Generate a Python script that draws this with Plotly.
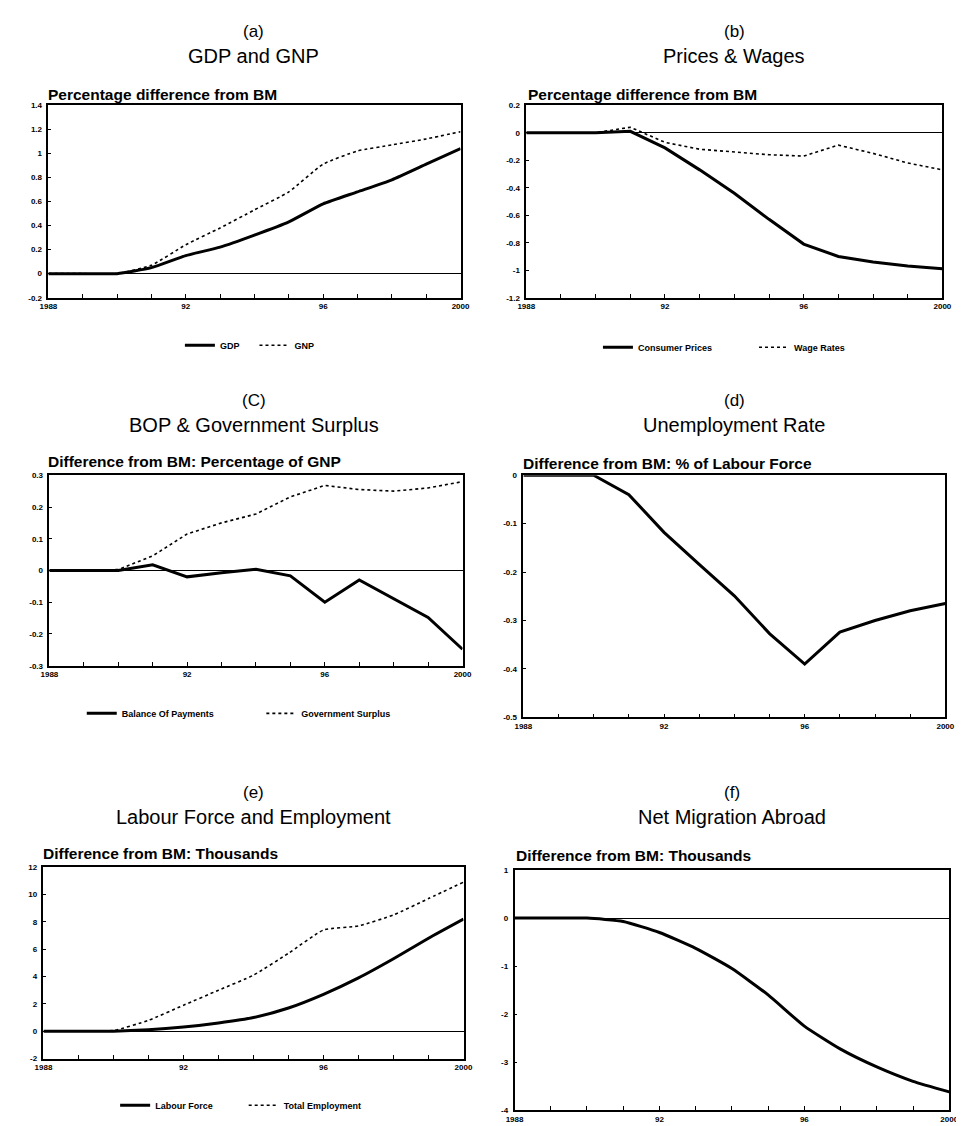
import plotly.graph_objects as go

W, H = 964, 1126

years = [1988, 1989, 1990, 1991, 1992, 1993, 1994, 1995, 1996, 1997, 1998, 1999, 2000]
x_tick_labels = ["1988", "", "", "", "92", "", "", "", "96", "", "", "", "2000"]

# (a) GDP and GNP
gdp = [0, 0, 0, 0.05, 0.15, 0.22, 0.32, 0.43, 0.58, 0.68, 0.78, 0.91, 1.04]
gnp = [0, 0, 0, 0.07, 0.24, 0.38, 0.53, 0.68, 0.91, 1.02, 1.07, 1.12, 1.18]
# (b) Prices & Wages
consumer_prices = [0, 0, 0, 0.01, -0.11, -0.27, -0.44, -0.63, -0.81, -0.90, -0.94, -0.97, -0.99]
wage_rates = [0, 0, 0, 0.04, -0.07, -0.12, -0.14, -0.16, -0.17, -0.09, -0.15, -0.22, -0.27]
# (c) BOP & Government Surplus
balance_of_payments = [0, 0, 0, 0.018, -0.02, -0.007, 0.004, -0.017, -0.10, -0.03, -0.09, -0.148, -0.248]
government_surplus = [0, 0, 0.003, 0.046, 0.115, 0.15, 0.178, 0.232, 0.268, 0.255, 0.25, 0.26, 0.28]
# (d) Unemployment Rate
unemployment = [0, 0, 0, -0.04, -0.118, -0.184, -0.249, -0.327, -0.39, -0.324, -0.30, -0.28, -0.265]
# (e) Labour Force and Employment
labour_force = [0, 0, 0, 0.1, 0.3, 0.6, 1.0, 1.7, 2.7, 3.9, 5.3, 6.8, 8.2]
total_employment = [0, 0, 0.05, 0.8, 1.9, 3.0, 4.1, 5.7, 7.4, 7.7, 8.5, 9.7, 10.9]
# (f) Net Migration Abroad
net_migration = [0, 0, 0, -0.07, -0.3, -0.63, -1.05, -1.6, -2.25, -2.73, -3.1, -3.4, -3.62]

# y tick values / labels per panel
yt_a = [1.4, 1.2, 1, 0.8, 0.6, 0.4, 0.2, 0, -0.2]
yl_a = ["1.4", "1.2", "1", "0.8", "0.6", "0.4", "0.2", "0", "-0.2"]
yt_b = [0.2, 0, -0.2, -0.4, -0.6, -0.8, -1, -1.2]
yl_b = ["0.2", "0", "-0.2", "-0.4", "-0.6", "-0.8", "-1", "-1.2"]
yt_c = [0.3, 0.2, 0.1, 0, -0.1, -0.2, -0.3]
yl_c = ["0.3", "0.2", "0.1", "0", "-0.1", "-0.2", "-0.3"]
yt_d = [0, -0.1, -0.2, -0.3, -0.4, -0.5]
yl_d = ["0", "-0.1", "-0.2", "-0.3", "-0.4", "-0.5"]
yt_e = [12, 10, 8, 6, 4, 2, 0, -2]
yl_e = ["12", "10", "8", "6", "4", "2", "0", "-2"]
yt_f = [1, 0, -1, -2, -3, -4]
yl_f = ["1", "0", "-1", "-2", "-3", "-4"]

FONT = "Liberation Sans, Arial, sans-serif"

# panel geometry in pixels: (x0, x1, y0_top, y1_bottom)
panels = {
    1: (32, 452, 94, 288),
    2: (519, 943, 94, 288),
    3: (33, 454, 467, 659),
    4: (516, 946, 467, 711),
    5: (27, 455, 862, 1055),
    6: (507, 950, 865, 1107),
}
ranges = {1: [-0.2, 1.4], 2: [-1.2, 0.2], 3: [-0.3, 0.3], 4: [-0.5, 0], 5: [-2, 12], 6: [-4, 1]}
yticks = {1: (yt_a, yl_a), 2: (yt_b, yl_b), 3: (yt_c, yl_c), 4: (yt_d, yl_d), 5: (yt_e, yl_e), 6: (yt_f, yl_f)}

def px(x):
    return x / W

def py(y):
    return 1 - y / H

fig = go.Figure()

solid = dict(color="black", width=3)
dotted = dict(color="black", width=1.6, dash="dot")

series = [
    (1, gdp, "GDP", solid, "legend", "spline"),
    (1, gnp, "GNP", dotted, "legend2", "spline"),
    (2, consumer_prices, "Consumer Prices", solid, "legend3", "linear"),
    (2, wage_rates, "Wage Rates", dotted, "legend4", "linear"),
    (3, balance_of_payments, "Balance Of Payments", solid, "legend5", "linear"),
    (3, government_surplus, "Government Surplus", dotted, "legend6", "linear"),
    (4, unemployment, "Unemployment", solid, None, "linear"),
    (5, labour_force, "Labour Force", solid, "legend7", "spline"),
    (5, total_employment, "Total Employment", dotted, "legend8", "spline"),
    (6, net_migration, "Net Migration", solid, None, "spline"),
]

for idx, vals, name, line, leg, shape in series:
    suffix = "" if idx == 1 else str(idx)
    kw = dict(
        x=years, y=vals, name=name, mode="lines",
        line=dict(shape=shape, smoothing=0.5, **line) if shape == "spline" else dict(shape=shape, **line),
        xaxis="x" + suffix, yaxis="y" + suffix,
        showlegend=leg is not None,
    )
    if leg is not None:
        kw["legend"] = leg
    fig.add_trace(go.Scatter(**kw))

layout = dict(
    width=W, height=H,
    margin=dict(l=0, r=0, t=0, b=0),
    paper_bgcolor="white", plot_bgcolor="white",
    font=dict(family=FONT, color="black"),
)

tickfont = dict(family=FONT, size=8, color="black", weight="bold")

for i, (x0, x1, y0, y1) in panels.items():
    suffix = "" if i == 1 else str(i)
    layout["xaxis" + suffix] = dict(
        domain=[px(x0), px(x1)], anchor="y" + suffix,
        range=[1988, 2000], tickmode="array", tickvals=years, ticktext=x_tick_labels,
        ticks="inside", ticklen=4, tickwidth=1, tickcolor="black",
        showline=True, linecolor="black", linewidth=1.5, mirror=True,
        showgrid=False, zeroline=False, tickfont=tickfont, tickangle=0,
    )
    tv, tl = yticks[i]
    layout["yaxis" + suffix] = dict(
        domain=[py(y1), py(y0)], anchor="x" + suffix,
        range=ranges[i], tickmode="array", tickvals=tv, ticktext=tl,
        ticks="inside", ticklen=3, tickwidth=1, tickcolor="black",
        showline=True, linecolor="black", linewidth=1.5, mirror=True,
        showgrid=False, zeroline=True, zerolinecolor="black", zerolinewidth=1.3,
        tickfont=tickfont, ticklabelstandoff=3,
    )

# legends: (name, sample start px, y px)
legend_pos = {
    "legend": (172, 336), "legend2": (248, 336),
    "legend3": (598, 338), "legend4": (757, 338),
    "legend5": (72, 707), "legend6": (255, 707),
    "legend7": (106, 1102), "legend8": (237, 1102),
}
for name, (sx, sy) in legend_pos.items():
    layout[name] = dict(
        x=px(sx - 6), y=py(sy), xanchor="left", yanchor="middle",
        bgcolor="rgba(0,0,0,0)", borderwidth=0,
        font=dict(family=FONT, size=9, color="black", weight="bold"),
        itemwidth=30, tracegroupgap=0,
    )

fig.update_layout(**layout)

titles = [
    (241, "(a)", "GDP and GNP", 20, 44),
    (731, "(b)", "Prices & Wages", 20, 44),
    (241, "(C)", "BOP & Government Surplus", 392, 416),
    (731, "(d)", "Unemployment Rate", 392, 416),
    (241, "(e)", "Labour Force and Employment", 787, 811),
    (729, "(f)", "Net Migration Abroad", 787, 811),
]
subtitles = [
    (32, 83, "Percentage difference from BM"),
    (521, 83, "Percentage difference from BM"),
    (32, 453, "Difference from BM: Percentage of GNP"),
    (516, 455, "Difference from BM: % of Labour Force"),
    (27, 848, "Difference from BM: Thousands"),
    (508, 850, "Difference from BM: Thousands"),
]
for cx, lab, title, ly, ty in titles:
    fig.add_annotation(x=px(cx), y=py(ly), xref="paper", yref="paper", text=lab,
                       showarrow=False, xanchor="center", yanchor="middle",
                       font=dict(family=FONT, size=17, color="black"))
    fig.add_annotation(x=px(cx), y=py(ty), xref="paper", yref="paper", text=title,
                       showarrow=False, xanchor="center", yanchor="middle",
                       font=dict(family=FONT, size=20, color="black"))
for sx, sy, txt in subtitles:
    fig.add_annotation(x=px(sx), y=py(sy), xref="paper", yref="paper", text=txt,
                       showarrow=False, xanchor="left", yanchor="middle", xshift=-2,
                       font=dict(family=FONT, size=15.5, color="black", weight="bold"))

fig.write_html("out.html")
